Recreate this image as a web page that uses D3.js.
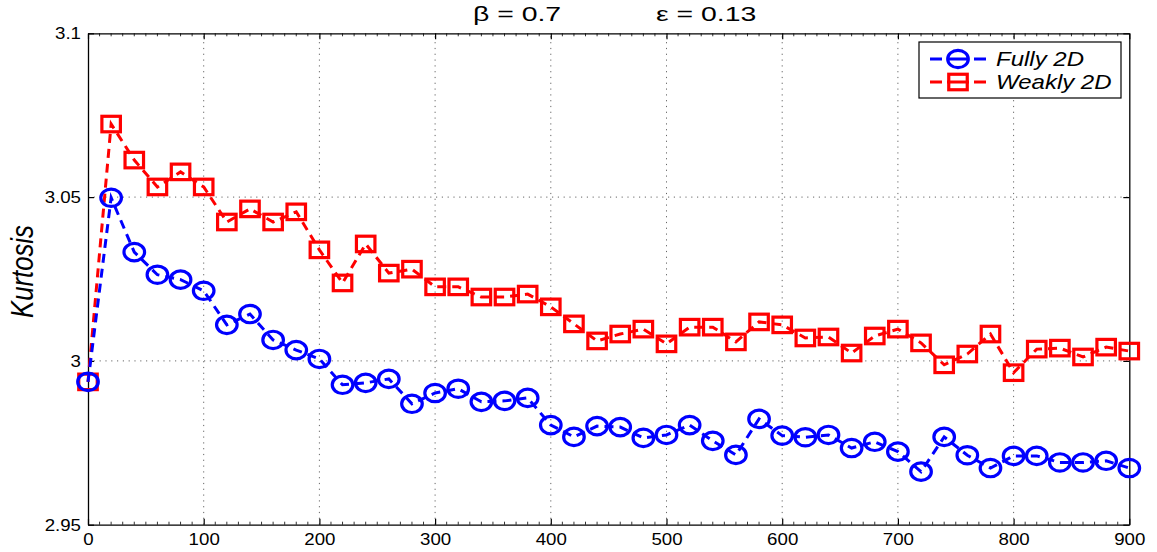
<!DOCTYPE html>
<html>
<head>
<meta charset="utf-8">
<script src="https://cdn.jsdelivr.net/npm/d3@7"></script>
<style>
  html, body { margin: 0; padding: 0; background: #fff; }
  svg { display: block; font-family: "Liberation Sans", Arial, Helvetica, sans-serif; }
</style>
</head>
<body>
<svg id="chart" width="1157" height="552"></svg>
<script>
// Sample positions (time steps)
const steps = d3.range(0, 901, 20);

// Kurtosis, fully two-dimensional case
const fully2D = [
  2.9936, 3.0498, 3.0332, 3.0263, 3.0248, 3.0214, 3.0110, 3.0143, 3.0064, 3.0033,
  3.0006, 2.9927, 2.9933, 2.9945, 2.9869, 2.9902, 2.9915, 2.9875, 2.9878, 2.9887,
  2.9804, 2.9768, 2.9801, 2.9798, 2.9765, 2.9774, 2.9804, 2.9756, 2.9713, 2.9823,
  2.9772, 2.9767, 2.9774, 2.9734, 2.9753, 2.9723, 2.9662, 2.9768, 2.9712, 2.9673,
  2.9710, 2.9710, 2.9690, 2.9690, 2.9695, 2.9673
];

// Kurtosis, weakly two-dimensional case
const weakly2D = [
  2.9936, 3.0723, 3.0613, 3.0531, 3.0577, 3.0531, 3.0424, 3.0464, 3.0424, 3.0455,
  3.0339, 3.0238, 3.0357, 3.0268, 3.0280, 3.0226, 3.0226, 3.0195, 3.0195, 3.0204,
  3.0165, 3.0113, 3.0061, 3.0082, 3.0097, 3.0052, 3.0103, 3.0103, 3.0058, 3.0119,
  3.0110, 3.0070, 3.0073, 3.0024, 3.0076, 3.0097, 3.0055, 2.9988, 3.0021, 3.0082,
  2.9964, 3.0036, 3.0039, 3.0012, 3.0042, 3.0030
];

const xTicks = [0, 100, 200, 300, 400, 500, 600, 700, 800, 900];
const yTicks = [2.95, 3.0, 3.05, 3.1];
const yTickLabels = ["2.95", "3", "3.05", "3.1"];
const seriesNames = ["Fully 2D", "Weakly 2D"];
const titleParts = ["\u03B2 = 0.7", "\u03B5 = 0.13"];
const yLabel = "Kurtosis";

const svg = d3.select("#chart");
const W = 1157, H = 552;
const margin = { left: 88, right: W - 1129.3, top: 33.3, bottom: H - 524.7 };

const x = d3.scaleLinear().domain([0, 900]).range([margin.left, W - margin.right]);
const y = d3.scaleLinear().domain([2.95, 3.1]).range([H - margin.bottom, margin.top]);

const x0 = x.range()[0], x1 = x.range()[1];
const y0 = y.range()[0], y1 = y.range()[1];

// Dotted grid
const grid = svg.append("g").attr("stroke", "#666").attr("stroke-width", 1)
  .attr("stroke-dasharray", "1.2,4.6").attr("fill", "none");
xTicks.slice(1, -1).forEach(t => {
  grid.append("line").attr("x1", x(t)).attr("x2", x(t)).attr("y1", y0).attr("y2", y1);
});
yTicks.slice(1, -1).forEach(t => {
  grid.append("line").attr("x1", x0).attr("x2", x1).attr("y1", y(t)).attr("y2", y(t));
});

// minor ticks along top and bottom edges
const minor = d3.range(0, 901, 10).filter(v => v % 100 !== 0);
const minorG = svg.append("g").attr("stroke", "#333").attr("stroke-width", 1);
minor.forEach(v => {
  minorG.append("line").attr("x1", x(v)).attr("x2", x(v)).attr("y1", y1).attr("y2", y1 + 3);
  minorG.append("line").attr("x1", x(v)).attr("x2", x(v)).attr("y1", y0).attr("y2", y0 - 3);
});

// Axes: box frame with inward ticks
const bottomAxis = d3.axisBottom(x).tickValues(xTicks).tickSizeInner(-6).tickSizeOuter(0)
  .tickPadding(8).tickFormat(d3.format("d"));
const topAxis = d3.axisTop(x).tickValues(xTicks).tickSizeInner(-6).tickSizeOuter(0).tickFormat("");
const leftAxis = d3.axisLeft(y).tickValues(yTicks).tickSizeInner(-6).tickSizeOuter(0)
  .tickPadding(7).tickFormat((d, i) => yTickLabels[i]);
const rightAxis = d3.axisRight(y).tickValues(yTicks).tickSizeInner(-6).tickSizeOuter(0).tickFormat("");

function styleAxis(g) {
  g.select(".domain").attr("stroke", "#000").attr("stroke-width", 1.3);
  g.selectAll(".tick line").attr("stroke", "#000").attr("stroke-width", 1.2);
  g.selectAll(".tick text").attr("fill", "#000").attr("font-size", 17)
    .attr("font-family", "Liberation Sans, Arial, sans-serif");
}

// widen tick labels slightly around their anchor point
function widen(g, sx) {
  g.selectAll(".tick text").each(function () {
    const t = d3.select(this);
    const tx = +t.attr("x") || 0;
    t.attr("transform", `translate(${tx},0) scale(${sx},1) translate(${-tx},0)`);
  });
}

const axG = svg.append("g");
axG.append("g").attr("transform", `translate(0,${y0})`).call(bottomAxis).call(styleAxis).call(widen, 1.1);
axG.append("g").attr("transform", `translate(0,${y1})`).call(topAxis).call(styleAxis);
axG.append("g").attr("transform", `translate(${x0},0)`).call(leftAxis).call(styleAxis).call(widen, 1.1);
axG.append("g").attr("transform", `translate(${x1},0)`).call(rightAxis).call(styleAxis);

// Series
const series = [
  { name: seriesNames[1], values: weakly2D, color: "#ff0000", marker: "square" },
  { name: seriesNames[0], values: fully2D, color: "#0000ff", marker: "circle" }
];

const line = d3.line().x((d, i) => x(steps[i])).y(d => y(d));

function drawMarker(g, cx, cy, kind, color) {
  if (kind === "circle") {
    g.append("ellipse").attr("cx", cx).attr("cy", cy).attr("rx", 10.3).attr("ry", 8.7)
      .attr("fill", "none").attr("stroke", color).attr("stroke-width", 3.2);
  } else {
    const w = 18.5, h = 15.5;
    g.append("rect").attr("x", cx - w / 2).attr("y", cy - h / 2).attr("width", w).attr("height", h)
      .attr("fill", "none").attr("stroke", color).attr("stroke-width", 3.2);
  }
}

series.forEach(s => {
  const g = svg.append("g");
  g.append("path").datum(s.values).attr("d", line)
    .attr("fill", "none").attr("stroke", s.color).attr("stroke-width", 3)
    .attr("stroke-dasharray", "9,6");
  s.values.forEach((v, i) => drawMarker(g, x(steps[i]), y(v), s.marker, s.color));
});

// Title: two parameter values
const titleG = svg.append("g");
[[473, titleParts[0]], [656, titleParts[1]]].forEach(([tx, txt]) => {
  titleG.append("text").attr("x", 0).attr("y", 0)
    .attr("transform", `translate(${tx},21) scale(1.42,1)`)
    .attr("font-size", 20).attr("fill", "#000").text(txt);
});

// Y label
svg.append("text")
  .attr("transform", `translate(33,${(y0 + y1) / 2 - 7.5}) scale(1.19,1) rotate(-90)`)
  .attr("text-anchor", "middle").attr("font-size", 25.7).attr("font-style", "italic")
  .attr("fill", "#000").text(yLabel);

// Legend
const leg = svg.append("g");
leg.append("rect").attr("x", 919).attr("y", 42).attr("width", 202).attr("height", 56)
  .attr("fill", "#fff").attr("stroke", "#000").attr("stroke-width", 1.2);
const legItems = [
  { label: seriesNames[0], color: "#0000ff", marker: "circle" },
  { label: seriesNames[1], color: "#ff0000", marker: "square" }
];
legItems.forEach((it, i) => {
  const cy = 59 + i * 23;
  leg.append("line").attr("x1", 930).attr("x2", 986).attr("y1", cy).attr("y2", cy)
    .attr("stroke", it.color).attr("stroke-width", 3).attr("stroke-dasharray", "12,5,22,5,12");
  drawMarker(leg, 958, cy, it.marker, it.color);
  leg.append("text").attr("x", 0).attr("y", 0)
    .attr("transform", `translate(996,${cy + 7}) scale(1.2,1)`)
    .attr("font-size", 20).attr("font-style", "italic").attr("fill", "#000")
    .text(it.label);
});
</script>
</body>
</html>
